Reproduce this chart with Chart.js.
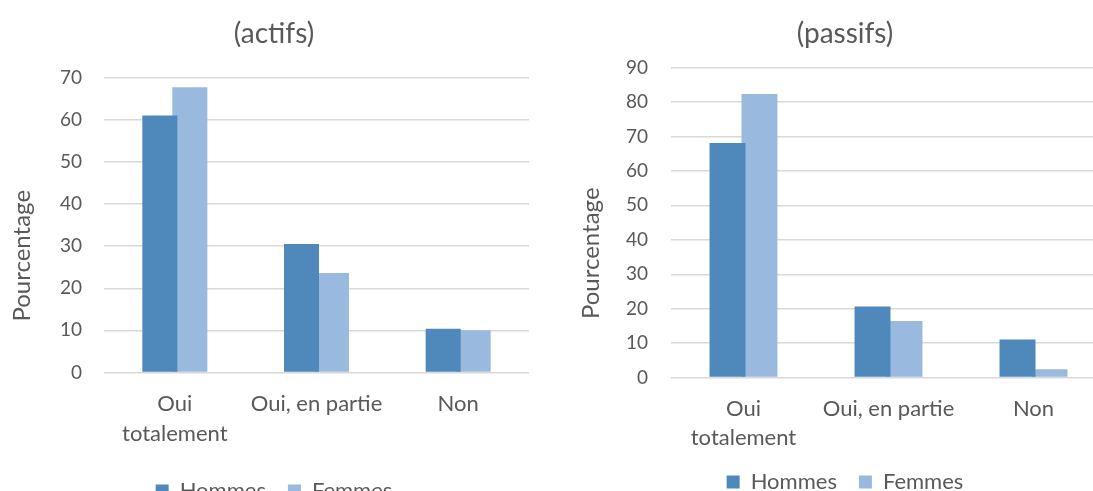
<!DOCTYPE html>
<html lang="fr">
<head>
<meta charset="utf-8">
<script src="https://cdn.jsdelivr.net/npm/chart.js@4.4.1/dist/chart.umd.min.js"></script>
<style>
  html, body { margin: 0; padding: 0; background: #fff; overflow: hidden; width: 1093px; height: 491px; }
  .bloc { position: absolute; top: 0; }
  #bloc-actifs { left: 0; width: 546px; height: 512px; }
  #bloc-passifs { left: 547px; width: 586px; height: 503px; }
</style>
</head>
<body>
<div class="bloc" id="bloc-actifs"><canvas id="graficoActifs"></canvas></div>
<div class="bloc" id="bloc-passifs"><canvas id="graficoPassifs"></canvas></div>
<script>
// Données
const categories = [['Oui', 'totalement'], 'Oui, en partie', 'Non'];
const series = ['Hommes', 'Femmes'];

const actifsHommes = [61.0, 30.5, 10.4];
const actifsFemmes = [67.7, 23.6, 10.0];

const passifsHommes = [68.1, 20.6, 11.0];
const passifsFemmes = [82.3, 16.4, 2.4];

const ticksActifs = [0, 10, 20, 30, 40, 50, 60, 70];
const ticksPassifs = [0, 10, 20, 30, 40, 50, 60, 70, 80, 90];

const BLEU_FONCE = '#4f88bb';
const BLEU_CLAIR = '#99b9df';
const GRIS_TEXTE = '#595959';
const POLICE = 'Lato, "Open Sans", sans-serif';

// espaces insécables à la fin : le titre d'axe d'Excel est centré plus bas
const TITRE_Y = 'Pourcentage' + '\u00a0'.repeat(10);

Chart.defaults.font.family = POLICE;
Chart.defaults.color = GRIS_TEXTE;

function crearGrafico(id, titulo, hommes, femmes, ticks, cfg) {
    const ctx = document.getElementById(id).getContext('2d');
    return new Chart(ctx, {
        type: 'bar',
        data: {
            labels: categories,
            datasets: [
                { label: series[0], data: hommes, backgroundColor: BLEU_FONCE },
                { label: series[1], data: femmes, backgroundColor: BLEU_CLAIR }
            ]
        },
        options: {
            responsive: true,
            maintainAspectRatio: false,
            animation: false,
            categoryPercentage: cfg.catPct,
            barPercentage: cfg.barPct,
            layout: { padding: { left: cfg.padLeft, right: cfg.padRight, top: 0, bottom: 0 } },
            plugins: {
                title: {
                    display: true,
                    text: titulo,
                    color: GRIS_TEXTE,
                    font: { size: 28, weight: 'normal' },
                    padding: { top: 17, bottom: cfg.titleBottom }
                },
                legend: {
                    position: 'bottom',
                    labels: {
                        boxWidth: 13,
                        boxHeight: 13,
                        padding: 22,
                        color: GRIS_TEXTE,
                        font: { size: 22 }
                    }
                },
                tooltip: { enabled: false }
            },
            scales: {
                x: {
                    grid: { display: false, drawTicks: false },
                    border: { display: false },
                    ticks: {
                        color: GRIS_TEXTE,
                        font: { size: 22, lineHeight: 1.34 },
                        padding: cfg.xPad,
                        maxRotation: 0,
                        autoSkip: false
                    },
                    afterFit: (scale) => { scale.height = cfg.xHeight; }
                },
                y: {
                    min: 0,
                    max: ticks[ticks.length - 1],
                    afterBuildTicks: (scale) => { scale.ticks = ticks.map(v => ({ value: v })); },
                    grid: { color: '#d9d9d9', lineWidth: 1.4, drawTicks: false },
                    border: { display: false },
                    ticks: { color: GRIS_TEXTE, font: { size: 19 }, padding: cfg.yPad },
                    title: {
                        display: true,
                        text: TITRE_Y,
                        color: GRIS_TEXTE,
                        font: { size: 24 },
                        padding: { top: cfg.yTitlePad, bottom: 0 }
                    },
                    afterFit: (scale) => { scale.width = cfg.yWidth; }
                }
            }
        }
    });
}

crearGrafico('graficoActifs', '(actifs)', actifsHommes, actifsFemmes, ticksActifs, {
    catPct: 0.4235, barPct: 1.167, padLeft: 19, padRight: 17, titleBottom: 27,
    xPad: 17, xHeight: 85.5, yPad: 22, yTitlePad: -11, yWidth: 85
});

crearGrafico('graficoPassifs', '(passifs)', passifsHommes, passifsFemmes, ticksPassifs, {
    catPct: 0.441, barPct: 1.125, padLeft: 37, padRight: 27, titleBottom: 17,
    xPad: 16.5, xHeight: 71.5, yPad: 23, yTitlePad: -7, yWidth: 87
});
</script>
</body>
</html>
